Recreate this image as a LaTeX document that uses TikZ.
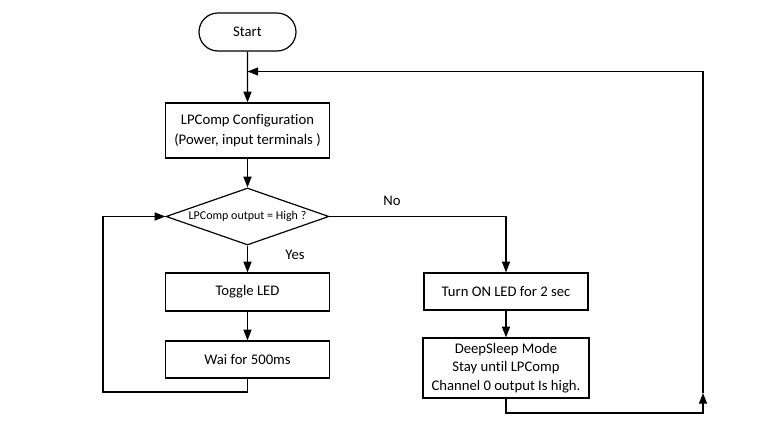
\documentclass[tikz,border=0pt]{standalone}
\usepackage{fontspec}
\setmainfont{Carlito}[Ligatures=NoCommon]
\usetikzlibrary{shapes.geometric,shapes.misc,arrows.meta}
\begin{document}
\begin{tikzpicture}[x=0.75pt,y=-0.75pt,
  every node/.style={font=\fontsize{11}{15}\selectfont},
  lw/.style={line width=0.9pt},
  box/.style={draw,lw,minimum width=164*0.75pt,inner sep=0pt,align=center},
  startbox/.style={draw,lw,rounded rectangle,minimum width=97*0.75pt,minimum height=38*0.75pt,inner sep=0pt},
  decision/.style={draw,lw,diamond,minimum width=163*0.75pt,minimum height=57*0.75pt,inner sep=0pt,shape aspect=2.86,font=\fontsize{9}{11}\selectfont},
  arr/.style={lw,-{Triangle[length=8pt,width=6pt]}},
  conn/.style={lw}
]
\fill[white] (0,0) rectangle (758,436);
\useasboundingbox (0,0) rectangle (758,436);

\node[startbox] (start) at (247.5,32) {Start};
\node[box,minimum height=55*0.75pt] (cfg) at (247.5,130.5) {LPComp Configuration\\(Power, input terminals )};
\node[decision] (dec) at (247.5,216.5) {LPComp output = High ?};
\node[box,minimum height=38*0.75pt] (tog) at (247.5,292) {Toggle LED};
\node[box,minimum height=37*0.75pt] (wait) at (247.5,359.5) {Wai for 500ms};
\node[box,minimum height=37*0.75pt] (on) at (506,291.5) {Turn ON LED for 2 sec};
\node[box,minimum width=166*0.75pt,minimum height=60*0.75pt,font=\fontsize{11}{13.7}\selectfont] (ds) at (506,368) {DeepSleep Mode\\Stay until LPComp\\Channel 0 output Is high.};

\node (no) at (392,201) {No};
\node (yes) at (295,255) {Yes};

\coordinate (jn) at (247.5,71.5);
\coordinate (lb) at (103,392);
\coordinate (rb) at (703,413);
\coordinate (ra) at (703,393);
\coordinate (rt) at (703,71.5);

\draw[arr] (start) -- (cfg);
\draw[arr] (cfg) -- (dec);
\draw[arr] (dec) -- (tog);
\draw[arr] (tog) -- (wait);
\draw[arr] (wait.south) |- (lb) |- (dec.west);
\draw[arr] (dec.east) -| (on.north);
\draw[arr] (on) -- (ds);
\draw[arr] (ds.south) |- (rb) -- (ra);
\draw[arr] (ra) -- (rt) -- (jn);
\end{tikzpicture}
\end{document}
